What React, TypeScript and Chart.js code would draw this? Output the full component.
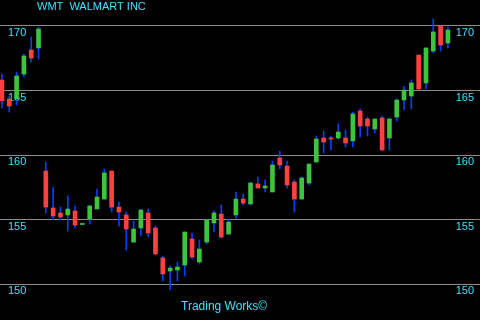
import React, { useEffect, useRef } from "react";
import { Chart, registerables } from "chart.js";

Chart.register(...registerables);

const opens = [
  165.82, 164.35, 164.35, 166.28, 168.14, 168.30, 158.77, 155.91, 155.52, 155.37,
  155.68, 154.63, 155.06, 155.83, 156.60, 158.77, 155.98, 155.37, 153.27, 154.36,
  155.52, 154.36, 152.04, 151.03, 151.11, 151.49, 153.51, 151.73, 153.27, 154.75,
  155.44, 153.89, 155.37, 156.60, 156.22, 157.77, 157.46, 157.15, 159.78, 159.16,
  157.92, 156.60, 157.84, 159.47, 161.33, 161.33, 161.33, 161.33, 161.10, 163.42,
  162.80, 162.03, 162.88, 161.33, 162.95, 164.27, 164.58, 167.75, 165.59, 168.06,
  170.00, 168.68,
];
const highs = [
  166.28, 164.58, 166.44, 167.83, 169.15, 169.92, 159.47, 157.53, 155.98, 156.84,
  156.06, 154.71, 156.14, 157.38, 158.93, 158.77, 156.37, 155.60, 154.90, 155.83,
  155.83, 154.51, 152.19, 151.42, 151.73, 154.05, 153.97, 153.43, 155.06, 155.68,
  156.14, 155.06, 157.15, 156.99, 157.92, 158.31, 158.08, 159.55, 160.32, 159.55,
  158.08, 158.31, 159.31, 161.48, 161.87, 161.48, 162.41, 161.95, 163.34, 163.57,
  162.95, 162.80, 163.03, 162.88, 164.35, 165.35, 165.82, 167.75, 168.30, 170.54,
  170.00, 169.92,
];
const lows = [
  163.65, 163.34, 163.88, 166.05, 167.21, 167.44, 155.52, 154.98, 154.98, 154.13,
  154.36, 154.63, 154.67, 155.83, 156.60, 155.60, 154.51, 152.65, 153.27, 153.74,
  153.66, 152.27, 150.26, 149.56, 150.26, 150.64, 151.96, 151.57, 153.12, 154.05,
  153.58, 153.89, 155.13, 156.14, 156.14, 157.46, 157.15, 157.15, 158.93, 157.46,
  155.60, 156.60, 157.69, 159.47, 160.17, 160.40, 161.25, 160.63, 160.63, 161.41,
  161.48, 161.71, 160.32, 160.40, 162.64, 163.50, 163.57, 165.12, 165.12, 167.91,
  168.06, 168.30,
];
const closes = [
  164.22, 163.81, 166.13, 167.68, 167.52, 169.77, 155.98, 155.29, 155.21, 155.83,
  154.59, 154.71, 156.06, 156.76, 158.62, 155.98, 155.60, 154.28, 154.28, 155.75,
  153.97, 152.35, 150.80, 151.26, 151.34, 154.05, 152.11, 152.73, 154.98, 155.52,
  153.66, 154.82, 156.60, 156.29, 157.84, 157.46, 157.61, 159.24, 159.24, 157.69,
  156.60, 158.23, 159.31, 161.25, 161.02, 161.25, 161.79, 160.94, 163.19, 162.26,
  162.26, 162.80, 160.40, 162.80, 164.27, 165.04, 165.59, 165.12, 168.30, 169.54,
  168.53, 169.69,
];
const tickValues = [150, 155, 160, 165, 170];
const titleText = "WMT  WALMART INC";
const footerText = "Trading Works\u00A9";

const CYAN = "#40e0ff";
const FONT = "'Liberation Sans', Arial, sans-serif";

export default function App() {
  const ref = useRef<HTMLCanvasElement>(null);
  useEffect(() => {
    document.body.style.margin = "0";
    document.body.style.background = "#000";
    const idx = opens.map((_, i) => i);
    const up = idx.map((i) => closes[i] >= opens[i]);
    const bg = {
      id: "bg",
      beforeDraw(c: any) {
        const ctx = c.ctx;
        ctx.save();
        ctx.fillStyle = "#000";
        ctx.fillRect(0, 0, c.width, c.height);
        ctx.restore();
      },
    };
    const texts = {
      id: "texts",
      afterDraw(c: any) {
        const ctx = c.ctx;
        ctx.save();
        ctx.fillStyle = CYAN;
        ctx.textBaseline = "top";
        ctx.textAlign = "left";
        ctx.font = `11px ${FONT}`;
        ctx.fillText(titleText, 37, 1);
        ctx.font = `12px ${FONT}`;
        ctx.fillText(footerText, 181, 301);
        ctx.restore();
      },
    };
    const tickCfg = (padding: number) => ({
      mirror: true,
      padding,
      labelOffset: 7,
      color: CYAN,
      font: { family: FONT, size: 11 },
      callback: (v: any) => String(v),
    });
    const setTicks = (axis: any) => {
      axis.ticks = tickValues.map((v) => ({ value: v }));
    };
    const flatten = (axis: any) => {
      axis.width = 0;
      axis.paddingTop = 0;
      axis.paddingBottom = 0;
      axis.paddingLeft = 0;
      axis.paddingRight = 0;
    };
    const chart = new Chart(ref.current as HTMLCanvasElement, {
      type: "bar",
      data: {
        datasets: [
          {
            label: "wick",
            data: idx.map((i) => ({ x: i, y: [lows[i], highs[i]] })) as any,
            backgroundColor: "#0040ff",
            barThickness: 1,
            grouped: false,
            order: 2,
            borderWidth: 0,
          } as any,
          {
            label: "body",
            data: idx.map((i) => ({ x: i, y: [opens[i], closes[i]] })) as any,
            backgroundColor: idx.map((i) => (up[i] ? "#3cc43c" : "#ff4040")),
            barThickness: 4,
            grouped: false,
            order: 1,
            borderWidth: 0,
          } as any,
        ],
      },
      options: {
        animation: false,
        responsive: false,
        maintainAspectRatio: false,
        layout: { padding: 0 },
        plugins: { legend: { display: false }, tooltip: { enabled: false } },
        scales: {
          x: { type: "linear", min: -0.27, max: 65.39, offset: false, display: false },
          y: {
            position: "left",
            min: 147.236,
            max: 172.013,
            afterBuildTicks: setTicks,
            afterFit: flatten,
            grid: { color: "#8c8c8c", drawTicks: false, lineWidth: 1 },
            border: { display: false },
            ticks: tickCfg(8),
          },
          y2: {
            position: "right",
            min: 147.236,
            max: 172.013,
            afterBuildTicks: setTicks,
            afterFit: flatten,
            grid: { display: false, drawTicks: false },
            border: { display: false },
            ticks: tickCfg(-6),
          },
        },
      } as any,
      plugins: [bg, texts],
    });
    return () => chart.destroy();
  }, []);
  return <canvas ref={ref} width={480} height={320} style={{ display: "block" }} />;
}
